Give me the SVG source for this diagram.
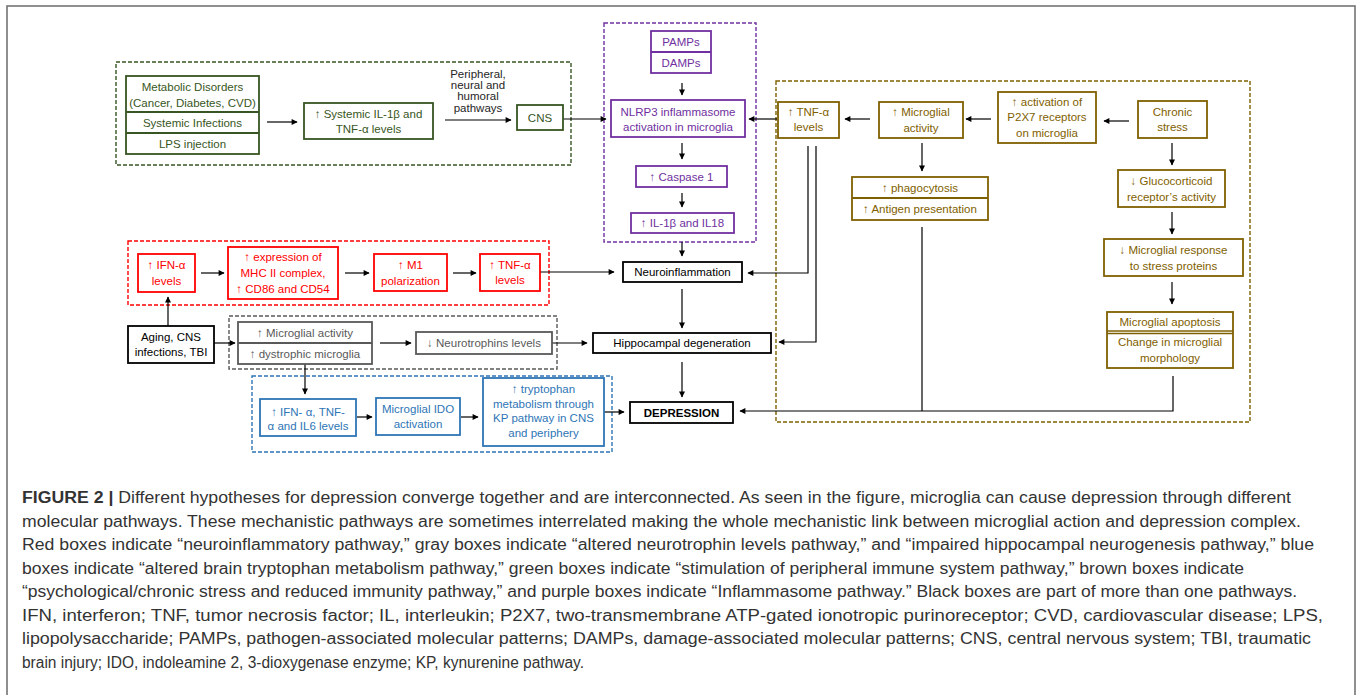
<svg xmlns="http://www.w3.org/2000/svg" width="1358" height="695" viewBox="0 0 1358 695">
<defs>
<marker id="ah" viewBox="0 0 10 10" refX="9" refY="5" markerWidth="7" markerHeight="6" markerUnits="userSpaceOnUse" orient="auto">
<path d="M0,0 L10,5 L0,10 z" fill="#000"/>
</marker>
<style>
text{font-family:"Liberation Sans",Arial,sans-serif;font-size:11.5px;text-anchor:middle}
.box{fill:#fff;stroke-width:1.8}
.reg{fill:none;stroke-width:1.4;stroke-dasharray:4 2}
.g{stroke:#375623}.gt{fill:#375623}
.p{stroke:#7030a0}.pt{fill:#7030a0}
.r{stroke:#ff0000}.rt{fill:#ff0000}
.b{stroke:#7f6000}.bt{fill:#7f6000}
.bl{stroke:#2e75b6}.blt{fill:#2e75b6}
.gr{stroke:#595959}.grt{fill:#595959}
.k{stroke:#000}.kt{fill:#000}
.con{fill:none;stroke:#000;stroke-width:1.2}
.arr{marker-end:url(#ah)}
.cap{font-family:"Liberation Sans",Arial,sans-serif;font-size:15.8px;text-anchor:start;fill:#333}
</style>
</defs>
<rect x="0" y="0" width="1358" height="695" fill="#fff"/>
<rect x="7" y="6" width="1348" height="720" fill="none" stroke="#6b6b6b" stroke-width="1.5"/>

<!-- regions -->
<g id="regions">
<rect class="reg g" x="116" y="62" width="455" height="103"/>
<rect class="reg p" x="604" y="23" width="152" height="219"/>
<rect class="reg b" x="776" y="81" width="474" height="341"/>
<rect class="reg r" x="128" y="241" width="421" height="64"/>
<rect class="reg gr" x="229" y="316" width="328" height="53"/>
<rect class="reg bl" x="252" y="376" width="360" height="76"/>
</g>

<!-- connectors -->
<g id="connectors">
<line class="con arr" x1="267" y1="122" x2="297" y2="122"/>
<line class="con arr" x1="445" y1="120" x2="511" y2="120"/>
<line class="con arr" x1="563" y1="119" x2="606" y2="119"/>
<line class="con arr" x1="777" y1="119" x2="749" y2="119"/>
<line class="con arr" x1="682" y1="83" x2="682" y2="95"/>
<line class="con arr" x1="682" y1="143" x2="682" y2="159"/>
<line class="con arr" x1="682" y1="193" x2="682" y2="207"/>
<line class="con arr" x1="682" y1="242" x2="682" y2="256"/>
<line class="con arr" x1="682" y1="289" x2="682" y2="328"/>
<line class="con arr" x1="682" y1="362" x2="682" y2="397"/>
<line class="con arr" x1="540" y1="272" x2="614" y2="272"/>
<polyline class="con arr" points="808,146 808,273 748,273"/>
<polyline class="con arr" points="816,146 816,342 779,342"/>
<line class="con arr" x1="552" y1="343" x2="587" y2="343"/>
<line class="con arr" x1="305" y1="364" x2="305" y2="394"/>
<line class="con arr" x1="168" y1="326" x2="168" y2="297"/>
<line class="con arr" x1="214" y1="343" x2="235" y2="343"/>
<line class="con arr" x1="357" y1="417" x2="372" y2="417"/>
<line class="con arr" x1="461" y1="417" x2="478" y2="417"/>
<line class="con arr" x1="604" y1="412" x2="624" y2="412"/>
<line class="con" x1="922" y1="227" x2="922" y2="411"/>
<polyline class="con arr" points="1173,376 1173,411 740,411"/>
<line class="con arr" x1="922" y1="143" x2="922" y2="171"/>
<line class="con arr" x1="870" y1="119" x2="845" y2="119"/>
<line class="con arr" x1="991" y1="119" x2="966" y2="119"/>
<line class="con arr" x1="1129" y1="121" x2="1104" y2="121"/>
<line class="con arr" x1="1172" y1="143" x2="1172" y2="165"/>
<line class="con arr" x1="1172" y1="212" x2="1172" y2="234"/>
<line class="con arr" x1="1172" y1="282" x2="1172" y2="304"/>
<line class="con arr" x1="201" y1="273" x2="224" y2="273"/>
<line class="con arr" x1="345" y1="273" x2="369" y2="273"/>
<line class="con arr" x1="453" y1="273" x2="476" y2="273"/>
<line class="con arr" x1="380" y1="343" x2="411" y2="343"/>
<g fill="#262626" style="font-size:7.5px">
<text x="478" y="78">Peripheral,</text>
<text x="478" y="89">neural and</text>
<text x="478" y="100">humoral</text>
<text x="478" y="112">pathways</text>
</g>
</g>

<!-- green -->
<g id="n-metabolic">
<rect class="box g" x="126" y="76" width="133" height="78"/>
<line class="g" stroke-width="1.8" x1="126" y1="112" x2="259" y2="112"/>
<line class="g" stroke-width="1.8" x1="126" y1="133" x2="259" y2="133"/>
<text class="gt" x="192.5" y="91">Metabolic Disorders</text>
<text class="gt" x="192.5" y="107">(Cancer, Diabetes, CVD)</text>
<text class="gt" x="192.5" y="127">Systemic Infections</text>
<text class="gt" x="192.5" y="148">LPS injection</text>
</g>
<g id="n-systemic">
<rect class="box g" x="304" y="103" width="129" height="36"/>
<text class="gt" x="368.5" y="118">↑ Systemic IL-1β and</text>
<text class="gt" x="368.5" y="133">TNF-α levels</text>
</g>
<g id="n-cns">
<rect class="box g" x="517" y="105" width="46" height="25"/>
<text class="gt" x="540" y="122">CNS</text>
</g>

<!-- purple -->
<g id="n-pamps">
<rect class="box p" x="651" y="31" width="60" height="42"/>
<line class="p" stroke-width="1.8" x1="651" y1="52" x2="711" y2="52"/>
<text class="pt" x="681" y="46">PAMPs</text>
<text class="pt" x="681" y="67">DAMPs</text>
</g>
<g id="n-nlrp3">
<rect class="box p" x="611" y="100" width="134" height="37"/>
<text class="pt" x="678" y="116">NLRP3 inflammasome</text>
<text class="pt" x="678" y="131">activation in microglia</text>
</g>
<g id="n-caspase">
<rect class="box p" x="636" y="166" width="91" height="21"/>
<text class="pt" x="681.5" y="181">↑ Caspase 1</text>
</g>
<g id="n-il">
<rect class="box p" x="631" y="213" width="103" height="20"/>
<text class="pt" x="682.5" y="227">↑ IL-1β and IL18</text>
</g>

<!-- black -->
<g id="n-neuroinfl">
<rect class="box k" x="623" y="262" width="119" height="20" stroke-width="1.5"/>
<text class="kt" x="682.5" y="276">Neuroinflammation</text>
</g>
<g id="n-hippo">
<rect class="box k" x="593" y="333" width="178" height="20" stroke-width="1.5"/>
<text class="kt" x="682" y="347">Hippocampal degeneration</text>
</g>
<g id="n-depression">
<rect class="box k" x="630" y="402" width="103" height="21" stroke-width="1.5"/>
<text class="kt" x="681.5" y="416.5" font-weight="bold">DEPRESSION</text>
</g>
<g id="n-aging">
<rect class="box k" x="128" y="326" width="86" height="37" stroke-width="1.5"/>
<text class="kt" x="171" y="341">Aging, CNS</text>
<text class="kt" x="171" y="356">infections, TBI</text>
</g>

<!-- red -->
<g id="n-ifn">
<rect class="box r" x="138" y="254" width="57" height="38"/>
<text class="rt" x="166.5" y="269">↑ IFN-α</text>
<text class="rt" x="166.5" y="285">levels</text>
</g>
<g id="n-mhc">
<rect class="box r" x="228" y="247" width="110" height="52"/>
<text class="rt" x="283" y="261">↑ expression of</text>
<text class="rt" x="283" y="277">MHC II complex,</text>
<text class="rt" x="283" y="293">↑ CD86 and CD54</text>
</g>
<g id="n-m1">
<rect class="box r" x="374" y="254" width="73" height="37"/>
<text class="rt" x="410.5" y="269">↑ M1</text>
<text class="rt" x="410.5" y="285">polarization</text>
</g>
<g id="n-tnf-red">
<rect class="box r" x="480" y="254" width="60" height="37"/>
<text class="rt" x="510" y="269">↑ TNF-α</text>
<text class="rt" x="510" y="284">levels</text>
</g>

<!-- gray -->
<g id="n-microglial-gray">
<rect class="box gr" x="238" y="322" width="134" height="42"/>
<line class="gr" stroke-width="1.8" x1="238" y1="343" x2="372" y2="343"/>
<text class="grt" x="305" y="337">↑ Microglial activity</text>
<text class="grt" x="305" y="358">↑ dystrophic microglia</text>
</g>
<g id="n-neurotrophins">
<rect class="box gr" x="416" y="332" width="136" height="22"/>
<text class="grt" x="484" y="347">↓ Neurotrophins levels</text>
</g>

<!-- blue -->
<g id="n-ifn-blue">
<rect class="box bl" x="260" y="399" width="96" height="37"/>
<text class="blt" x="308" y="416">↑ IFN- α, TNF-</text>
<text class="blt" x="308" y="430">α and IL6 levels</text>
</g>
<g id="n-ido">
<rect class="box bl" x="376" y="398" width="84" height="37"/>
<text class="blt" x="418" y="413">Microglial IDO</text>
<text class="blt" x="418" y="428">activation</text>
</g>
<g id="n-tryptophan">
<rect class="box bl" x="483" y="378" width="121" height="68"/>
<text class="blt" x="543.5" y="393">↑ tryptophan</text>
<text class="blt" x="543.5" y="408">metabolism through</text>
<text class="blt" x="543.5" y="422">KP pathway in CNS</text>
<text class="blt" x="543.5" y="437">and periphery</text>
</g>

<!-- brown -->
<g id="n-tnf-brown">
<rect class="box b" x="778" y="102" width="61" height="36"/>
<text class="bt" x="808.5" y="116">↑ TNF-α</text>
<text class="bt" x="808.5" y="131">levels</text>
</g>
<g id="n-microglial-brown">
<rect class="box b" x="879" y="102" width="84" height="36"/>
<text class="bt" x="921" y="116">↑ Microglial</text>
<text class="bt" x="921" y="132">activity</text>
</g>
<g id="n-p2x7">
<rect class="box b" x="998" y="92" width="98" height="51"/>
<text class="bt" x="1047" y="106">↑ activation of</text>
<text class="bt" x="1047" y="121">P2X7 receptors</text>
<text class="bt" x="1047" y="137">on microglia</text>
</g>
<g id="n-chronic">
<rect class="box b" x="1138" y="101" width="69" height="37"/>
<text class="bt" x="1172.5" y="116">Chronic</text>
<text class="bt" x="1172.5" y="131">stress</text>
</g>
<g id="n-phago">
<rect class="box b" x="852" y="177" width="136" height="43"/>
<line class="b" stroke-width="1.8" x1="852" y1="198" x2="988" y2="198"/>
<text class="bt" x="920" y="192">↑ phagocytosis</text>
<text class="bt" x="920" y="213">↑ Antigen presentation</text>
</g>
<g id="n-gluco">
<rect class="box b" x="1118" y="170" width="107" height="37"/>
<text class="bt" x="1171.5" y="185">↓ Glucocorticoid</text>
<text class="bt" x="1171.5" y="201">receptor’s activity</text>
</g>
<g id="n-response">
<rect class="box b" x="1104" y="239" width="139" height="37"/>
<text class="bt" x="1173.5" y="254">↓ Microglial response</text>
<text class="bt" x="1173.5" y="270">to stress proteins</text>
</g>
<g id="n-apoptosis">
<rect class="box b" x="1107" y="312" width="126" height="56"/>
<line class="b" stroke-width="1.5" x1="1107" y1="331" x2="1233" y2="331"/>
<line class="b" stroke-width="1.5" x1="1107" y1="333.5" x2="1233" y2="333.5"/>
<text class="bt" x="1170" y="326">Microglial apoptosis</text>
<text class="bt" x="1170" y="346">Change in microglial</text>
<text class="bt" x="1170" y="362">morphology</text>
</g>

<!-- caption -->
<g id="caption">
<text class="cap" x="22" y="503" textLength="1269" lengthAdjust="spacingAndGlyphs"><tspan font-weight="bold">FIGURE 2 |</tspan> Different hypotheses for depression converge together and are interconnected. As seen in the figure, microglia can cause depression through different</text>
<text class="cap" x="22" y="526.5" textLength="1279" lengthAdjust="spacingAndGlyphs">molecular pathways. These mechanistic pathways are sometimes interrelated making the whole mechanistic link between microglial action and depression complex.</text>
<text class="cap" x="22" y="550" textLength="1292" lengthAdjust="spacingAndGlyphs">Red boxes indicate “neuroinflammatory pathway,” gray boxes indicate “altered neurotrophin levels pathway,” and “impaired hippocampal neurogenesis pathway,” blue</text>
<text class="cap" x="22" y="573.5" textLength="1222" lengthAdjust="spacingAndGlyphs">boxes indicate “altered brain tryptophan metabolism pathway,” green boxes indicate “stimulation of peripheral immune system pathway,” brown boxes indicate</text>
<text class="cap" x="22" y="597" textLength="1275" lengthAdjust="spacingAndGlyphs">“psychological/chronic stress and reduced immunity pathway,” and purple boxes indicate “Inflammasome pathway.” Black boxes are part of more than one pathways.</text>
<text class="cap" x="22" y="620.5" textLength="1301" lengthAdjust="spacingAndGlyphs">IFN, interferon; TNF, tumor necrosis factor; IL, interleukin; P2X7, two-transmembrane ATP-gated ionotropic purinoreceptor; CVD, cardiovascular disease; LPS,</text>
<text class="cap" x="22" y="644" textLength="1289" lengthAdjust="spacingAndGlyphs">lipopolysaccharide; PAMPs, pathogen-associated molecular patterns; DAMPs, damage-associated molecular patterns; CNS, central nervous system; TBI, traumatic</text>
<text class="cap" x="22" y="667.5" textLength="562" lengthAdjust="spacingAndGlyphs">brain injury; IDO, indoleamine 2, 3-dioxygenase enzyme; KP, kynurenine pathway.</text>
</g>
</svg>
